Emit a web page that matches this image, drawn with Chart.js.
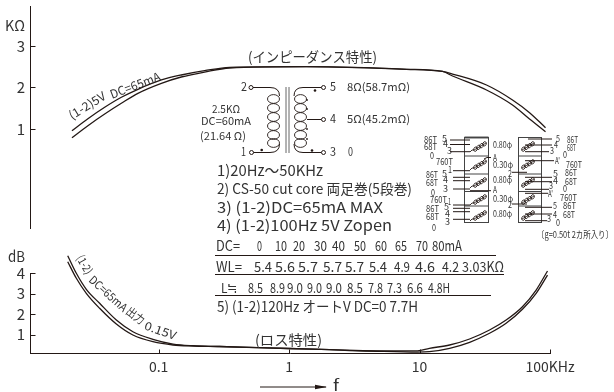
<!DOCTYPE html>
<html><head><meta charset="utf-8">
<style>html,body{margin:0;padding:0;background:#fff}canvas{display:block}</style>
<script src="https://cdn.jsdelivr.net/npm/chart.js@4/dist/chart.umd.min.js"></script>
</head><body><canvas id="c" width="614" height="392"></canvas>
<script>
// frequency in kHz, impedance in kΩ
const zFreq = [0.02166,0.0287,0.0386,0.0518,0.0694,0.105,0.149,0.225,0.35,1.36,7.95,15.0,17.9,32.6,51.6,69.7,92.4];
const zUpper = [0.959,1.248,1.523,1.764,1.957,2.181,2.301,2.405,2.487,2.501,2.439,2.386,2.325,2.06,1.699,1.393,1.031];
const zLower = [0.79,1.08,1.361,1.619,1.86,2.101,2.253,2.373,2.47,2.501,2.439,2.386,2.277,1.94,1.578,1.241,0.935];
// frequency in kHz, loss in dB
const lFreq = [0.0201,0.0234,0.0279,0.0353,0.0474,0.0635,0.0904,0.129,0.183,0.293,0.574,1.77,4.29,9.66,11.9,17.0,24.2,34.4,46.1,61.5,78.3,95.7];
const lUpper = [4.843,3.985,3.205,2.522,1.707,1.136,0.766,0.536,0.454,0.415,0.356,0.278,0.196,0.205,0.327,0.488,0.781,1.219,1.707,2.357,3.17,4.098];
const lLower = [4.551,3.742,3.01,2.278,1.512,0.976,0.649,0.488,0.439,0.415,0.356,0.278,0.196,0.14,0.161,0.327,0.62,1.059,1.546,2.229,3.01,3.9];
const xTicks = [0.1,1,10,100];
const xLabels = ['0.1','1','10','100KHz'];
const zTicks = [1,2,3];
const dbTicks = [1,2,3,4];

const INK='#231815', TXT='#333';
const FONT='"Noto Sans CJK JP","Noto Sans",sans-serif';
const zip=(xs,ys)=>xs.map((x,i)=>({x,y:ys[i]}));
const curve=(data,yAxisID)=>({data,yAxisID,xAxisID:'x',clip:false,borderColor:INK,borderWidth:1.3,pointRadius:0,fill:false,cubicInterpolationMode:'monotone'});

// [text, left, right, baseline, size]
const texts=[
 ['KΩ',5,25,31,15],['dB',8,25,262,15],['f',333,339,391,15],
 ['(インピーダンス特性)',248,377,62,14],
 ['2',241,247,91,11.5],['1',241,246,156,11.5],['5',330,336,91,11.5],['4',330,336,123,11.5],['3',330,336,156,11.5],['0',348,353,156,11.5],
 ['8Ω(58.7mΩ)',347,410,91,11],['5Ω(45.2mΩ)',347,410,123,11],
 ['2.5KΩ',212,240,113,11],['DC=60mA',201,251,125,11],['(21.64 Ω)',200,246,140,11],
 ['1)20Hz〜50KHz',217,323,176,15],
 ['2) CS-50 cut core 両足巻(5段巻)',217,412,194,14],
 ['3) (1-2)DC=65mA MAX',217,383,213,15],
 ['4) (1-2)100Hz 5V Zopen',217,392,231,15],
 ['DC=',216,240,251,14],['0',257,262,251,14],['10',275,287,251,14],['20',293,305,251,14],['30',314,327,251,14],['40',332,345,251,14],['50',354,366,251,14],['60',375,387,251,14],['65',395,407,251,14],['70',416,428,251,14],['80mA',432,462,251,14],
 ['WL=',216,242,272,14],['5.4',254,272,272,14],['5.6',275,295,272,14],['5.7',298,318,272,14],['5.7',323,342,272,14],['5.7',345,364,272,14],['5.4',369,387,272,14],['4.9',394,410,272,14],['4.6',415,435,272,14],['4.2',442,459,272,14],['3.03KΩ',462,504,272,14],
 ['L≒',221,238,293,13.5],['8.5',248,263,293,13.5],['8.9',270,285,293,13.5],['9.0',287,303,293,13.5],['9.0',307,322,293,13.5],['9.0',326,342,293,13.5],['8.5',347,363,293,13.5],['7.8',368,383,293,13.5],['7.3',387,402,293,13.5],['6.6',407,423,293,13.5],['4.8H',428,450,293,13.5],
 ['5) (1-2)120Hz オートV DC=0 7.7H',217,418,312,14.5],
 ['(ロス特性)',255,322,345,14],
 // winding diagram labels
 ['86T',424,437,143,9],['5',442,447,142,9],['68T',424,437,150,9],['4',443,448,147,9],['3',447,452,154,9],['0',430,434,159,9],['760T',436,453,165,9],['1',448,452,173,9],
 ['86T',426,438,178,9],['5',442,447,177,9],['68T',426,438,186,9],['4',443,448,183,9],['0',431,435,196,9],['3',443,448,192,9],['760T',430,447,203,9],['1',448,451,205,9],
 ['86T',426,439,212,9],['5',444,449,210,9],['68T',426,439,220,9],['4',445,450,217,9],['3',445,450,225,9],['0',432,436,231,9],
 ['0.80φ',493,512,148,8.5],['0.30φ',493,513,168,8.5],['0.80φ',493,512,183,8.5],['0.30φ',493,513,202,8.5],['0.80φ',493,512,217,8.5],
 ['A',493,497,161,9],['A',493,497,193,9],['2',508,512,177,9],['2',508,512,208,9],
 ['5',556,560,142,9],['86T',567,578,143,9],['4',554,558,148,9],['68T',567,576,151,9],['3',550,554,154,9],['0',563,567,158,9],['A\'',555,560,164,9],['760T',566,582,168,9],
 ['5',553,558,177,9],['86T',565,577,176,9],['4',553,558,184,9],['68T',565,577,185,9],['3',549,553,189,9],['0',563,567,192,9],['A\'',548,553,197,9],['760T',560,577,201,9],
 ['5',553,557,209,9],['86T',563,576,209,9],['4',553,557,218,9],['68T',563,575,218,9],['3',547,551,222,9],['0',556,560,226,9],
 ['〔g=0.50t 2カ所入り〕',537,613,238,9.5]
];
// [text, startX, startY, length, angleDeg, size]
const curvedTexts=[
 ['(1-2)5V',72,120,41,-31.8,12],['DC=65mA',112,99,53,-21,12],
 ['(1-2)',76,258,20,60,11.5],['DC=65mA',88,281,47,42,11.5],['出力',125,313,20,37,11.5],['0.15V',143.5,329,33,19.5,11.5]
];
function put(ctx,t,x,y,w,size,rot){
 ctx.save();ctx.font=size+'px '+FONT;ctx.translate(x,y);if(rot)ctx.rotate(rot*Math.PI/180);
 const m=ctx.measureText(t).width;ctx.scale(w/m,1);ctx.fillText(t,0,0);ctx.restore();
}
function seg(ctx,pts,w,col){ctx.beginPath();ctx.lineWidth=w||1;ctx.strokeStyle=col||INK;pts.forEach((p,i)=>i?ctx.lineTo(p[0],p[1]):ctx.moveTo(p[0],p[1]));ctx.stroke();}
function smallCoil(ctx,x0,y0,x1,y1){
 const n=4;for(let i=0;i<n;i++){const t=(i+.5)/n,x=x0+(x1-x0)*t,y=y0+(y1-y0)*t;
  ctx.beginPath();ctx.lineWidth=.9;ctx.strokeStyle=INK;ctx.ellipse(x,y,1.7,2.3,.5,0,7);ctx.stroke();}
 seg(ctx,[[x0,y0],[x1,y1]],.8);
}
const overlay={id:'overlay',afterDraw(chart){
 const ctx=chart.ctx;ctx.save();
 // inward tick marks, placed by the scales
 const S=chart.scales;
 xTicks.forEach(v=>{const p=Math.round(S.x.getPixelForValue(v))+.5;seg(ctx,[[p,S.x.top],[p,S.x.top-3.5]],1);});
 zTicks.forEach(v=>{const p=Math.round(S.yK.getPixelForValue(v))+.5;seg(ctx,[[S.yK.right,p],[S.yK.right+5.5,p]],1);});
 dbTicks.forEach(v=>{const p=Math.round(S.yD.getPixelForValue(v))+.5;seg(ctx,[[S.yD.right,p],[S.yD.right+5.5,p]],1);});
 ctx.fillStyle=TXT;ctx.textBaseline='alphabetic';ctx.textAlign='left';
 texts.forEach(([t,a,b,y,s])=>put(ctx,t,a,y,b-a,s));
 curvedTexts.forEach(([t,x,y,w,r,s])=>put(ctx,t,x,y,w,s,r));
 // rules
 [[215,496,255.5],[215,504,274.5],[215,491,295.5]].forEach(r=>seg(ctx,[[r[0],r[2]],[r[1],r[2]]],1));
 // arrow
 seg(ctx,[[260,387],[326,387]],1);
 ctx.beginPath();ctx.fillStyle=INK;ctx.moveTo(315,384.8);ctx.lineTo(327,387);ctx.lineTo(315,389.2);ctx.closePath();ctx.fill();
 // transformer
 const circ=(x,y)=>{ctx.beginPath();ctx.lineWidth=1;ctx.strokeStyle=INK;ctx.fillStyle='#fff';ctx.arc(x,y,2,0,7);ctx.fill();ctx.stroke();};
 const dot=(x,y,r)=>{ctx.beginPath();ctx.fillStyle=INK;ctx.arc(x,y,r||1.3,0,7);ctx.fill();};
 ctx.lineWidth=1;ctx.strokeStyle=INK;
 ctx.beginPath();ctx.moveTo(253,87.5);ctx.lineTo(270,87.5);ctx.quadraticCurveTo(279.5,87.5,279.5,96);ctx.stroke();
 ctx.beginPath();ctx.moveTo(253,152.5);ctx.lineTo(270,152.5);ctx.quadraticCurveTo(279.5,152.5,279.5,144);ctx.stroke();
 ctx.beginPath();ctx.moveTo(321.5,87.5);ctx.lineTo(303,87.5);ctx.quadraticCurveTo(294,87.5,294,96);ctx.stroke();
 ctx.beginPath();ctx.moveTo(321.5,152.5);ctx.lineTo(303,152.5);ctx.quadraticCurveTo(294,152.5,294,144);ctx.stroke();
 [100,109,118,127,136,144].forEach(y=>{ctx.beginPath();ctx.lineWidth=.9;ctx.ellipse(273.5,y-1,6,4.4,0,0,7);ctx.stroke();ctx.beginPath();ctx.ellipse(300.5,y-1,6,4.4,0,0,7);ctx.stroke();});
 seg(ctx,[[286,87],[286,153]],1,'#666');seg(ctx,[[289,87],[289,153]],1,'#666');
 seg(ctx,[[307,119.5],[321.5,119.5]],1);
 circ(251,87.5);circ(251.5,152.5);circ(323.5,87.5);circ(323.5,119.5);circ(323.5,152.5);
 dot(261.7,150);dot(315,90.5);dot(312,150.5);
 [100,109,129,139].forEach(y=>dot(307,y,.9));
 // winding diagram
 const ys=[137.5,156,174,191.5,206,222.5];
 seg(ctx,[[464.5,137.5],[488.5,137.5]],3,'#aaa');
 [[464.5,488.5],[518.5,541.5]].forEach(([a,b])=>{
  ctx.strokeStyle='#444';ctx.lineWidth=1;ctx.strokeRect(a,137.5,b-a,85);
  ys.slice(1,5).forEach(y=>seg(ctx,[[a,y],[b,y]],1,'#444'));
 });
 const L=[[450,470,140],[450,470,144.5],[450,470,151.7],[453,470,170.7],[453,470,177.3],[453,470,180.7],[453,470,189],[453,470,205],[453,470,208.3],[453,470,211.7],[453,470,219.3],[470,491,190.7]];
 L.forEach(l=>seg(ctx,[[l[0],l[2]],[l[1],l[2]]],1));
 seg(ctx,[[484,159],[487,157.5],[491,157.5]],1);
 const R=[[528,552,139],[525,552,145],[525,549,151.7],[525,552,177.3],[525,552,181.7],[525,549,189.3],[525,548,193.3],[525,552,207.3],[525,552,214],[525,547,220.7],[525,554,160.7],[512,527,172.3],[512,527,204]];
 R.forEach(l=>seg(ctx,[[l[0],l[2]],[l[1],l[2]]],1));
 [[474,150,486,143],[474,168,486,161],[474,186,486,179],[474,203,486,196],[474,219,486,212]].forEach(c=>{
  smallCoil(ctx,...c);seg(ctx,[[470,c[1]+2],[472,c[1]],[c[0],c[1]]],.9);
 });
 [[522,150,534,143],[522,168,534,161],[522,186,534,179],[522,203,534,196],[522,219,534,212]].forEach(c=>smallCoil(ctx,...c));
 ctx.restore();
}};
const vFit=s=>{s.width=30;s.paddingTop=0;s.paddingBottom=0;};
new Chart(document.getElementById('c'),{
 type:'line',
 data:{datasets:[
  curve(zip(zFreq,zUpper),'yK'),curve(zip(zFreq,zLower),'yK'),
  curve(zip(lFreq,lUpper),'yD'),curve(zip(lFreq,lLower),'yD')]},
 options:{
  responsive:false,animation:false,events:[],
  layout:{padding:{top:6,left:0,right:64,bottom:0}},
  plugins:{legend:{display:false},tooltip:{enabled:false},title:{display:false}},
  scales:{
   x:{type:'logarithmic',position:'bottom',min:0.01033,max:100,
    afterBuildTicks:s=>{s.ticks=xTicks.map(value=>({value}));},
    afterFit:s=>{s.height=39;},
    grid:{drawOnChartArea:false,drawTicks:false},border:{color:INK,width:1},
    ticks:{padding:5,color:TXT,font:{family:FONT,size:14},maxRotation:0,autoSkip:false,
     callback:v=>{const i=xTicks.indexOf(v);return i<0?'':xLabels[i];}}},
   yK:{type:'linear',position:'left',stack:'v',stackWeight:223,weight:3,min:-1.41,max:3.964,
    afterBuildTicks:s=>{s.ticks=zTicks.map(value=>({value}));},
    afterFit:vFit,
    grid:{drawOnChartArea:false,drawTicks:false},border:{color:INK,width:1},
    ticks:{padding:5,autoSkip:false,color:TXT,font:{family:FONT,size:15}}},
   gap:{type:'linear',position:'left',stack:'v',stackWeight:44,weight:2,display:false},
   yD:{type:'linear',position:'left',stack:'v',stackWeight:80,weight:1,min:0.098,max:4,
    afterBuildTicks:s=>{s.ticks=dbTicks.map(value=>({value}));},
    afterFit:vFit,
    grid:{drawOnChartArea:false,drawTicks:false},border:{color:INK,width:1},
    ticks:{padding:5,autoSkip:false,color:TXT,font:{family:FONT,size:15}}}
  }
 },
 plugins:[overlay]
});
</script></body></html>
